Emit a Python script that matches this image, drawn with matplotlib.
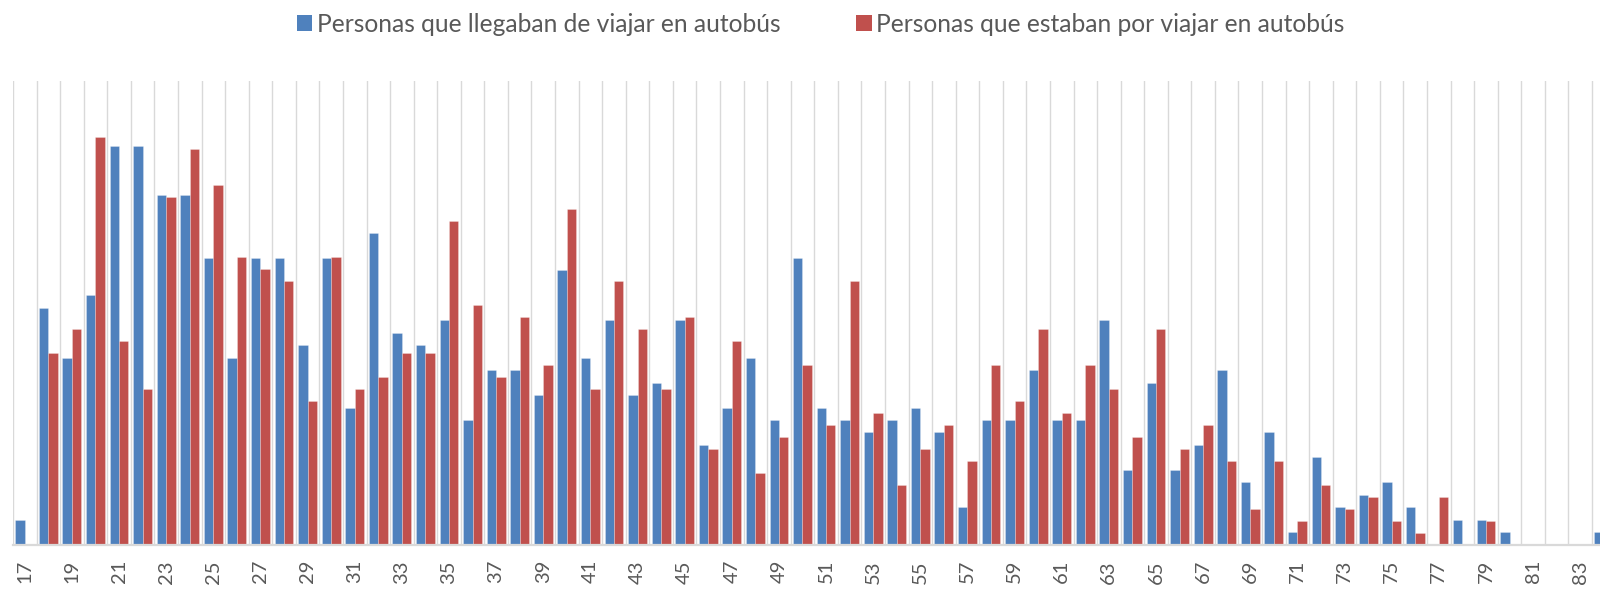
import matplotlib
matplotlib.use("Agg")
import matplotlib.pyplot as plt
from matplotlib.patches import Patch
import numpy as np

# Age of each respondent group
ages = list(range(17, 85))

# People counted per age: arriving from a bus trip
llegaban = [2, 19, 15, 20, 32, 32, 28, 28, 23, 15,
            23, 23, 16, 23, 11, 25, 17, 16, 18, 10,
            14, 14, 12, 22, 15, 18, 12, 13, 18, 8,
            11, 15, 10, 23, 11, 10, 9, 10, 11, 9,
            3, 10, 10, 14, 10, 10, 18, 6, 13, 6,
            8, 14, 5, 9, 1, 7, 3, 4, 5, 3,
            0, 2, 2, 1, 0, 0, 0, 1]

# People counted per age: about to leave on a bus trip
por_viajar = [0, 16, 18, 34, 17, 13, 29, 33, 30, 24,
              23, 22, 12, 24, 13, 14, 16, 16, 27, 20,
              14, 19, 15, 28, 13, 22, 18, 13, 19, 8,
              17, 6, 9, 15, 10, 22, 11, 5, 8, 10,
              7, 15, 12, 18, 11, 15, 13, 9, 18, 8,
              10, 7, 3, 7, 2, 5, 3, 4, 2, 1,
              4, 0, 2, 0, 0, 0, 0, 0]

series_names = ["Personas que llegaban de viajar en autobús",
                "Personas que estaban por viajar en autobús"]
tick_ages = list(range(17, 84, 2))

BLUE = "#4f81bd"
RED = "#c0504d"
GRID = "#d9d9d9"
TEXT = "#595959"

plt.rcParams["font.family"] = ["Lato", "DejaVu Sans"]

# Each series as a share (%) of its own total
x = np.array(ages, dtype=float)
pct_lleg = np.array(llegaban) / sum(llegaban) * 100
pct_por = np.array(por_viajar) / sum(por_viajar) * 100

W, H = 1600, 589
fig = plt.figure(figsize=(W / 100, H / 100), dpi=100)
left_px, right_px, top_px, bottom_px = 13.0, 1600.0, 81.0, 544.8
ax = fig.add_axes([left_px / W, 1 - bottom_px / H,
                   (right_px - left_px) / W, (bottom_px - top_px) / H])

bar_w = 0.4
ax.bar(x - bar_w / 2, pct_lleg, width=bar_w, color=BLUE,
       edgecolor=(1, 1, 1, 0.35), linewidth=0.5, zorder=2)
ax.bar(x + bar_w / 2, pct_por, width=bar_w, color=RED,
       edgecolor=(1, 1, 1, 0.35), linewidth=0.5, zorder=2)

ax.set_xticks(np.arange(16.5, 86, 1), minor=True)
ax.set_xticks(tick_ages)
ax.set_xticklabels([str(a) for a in tick_ages], rotation=90,
                   fontsize=14.5, color=TEXT)
ax.set_yticks([])
ax.tick_params(which="both", length=0)
ax.tick_params(axis="x", which="major", pad=11)
ax.grid(which="minor", axis="x", color=GRID, linewidth=1.0, zorder=0)
ax.set_axisbelow(True)

# Category width in pixels sets the visible right limit
cat_px = 23.567
ax.set_xlim(16.5, 16.5 + (right_px - left_px) / cat_px)
ax.set_ylim(0, 4.5)

for side in ("top", "right", "left"):
    ax.spines[side].set_visible(False)
ax.spines["bottom"].set_color(GRID)
ax.spines["bottom"].set_linewidth(1.6)
ax.spines["bottom"].set_zorder(3)

handles = [Patch(facecolor=BLUE, edgecolor="none"),
           Patch(facecolor=RED, edgecolor="none")]
fig.legend(handles, series_names, loc="center", ncol=2,
           bbox_to_anchor=(821 / W, 1 - 24 / H), frameon=False,
           fontsize=17.75, labelcolor=TEXT, handlelength=0.62,
           handleheight=0.62, handletextpad=0.2, columnspacing=3.05,
           borderpad=0, borderaxespad=0)

fig.savefig("out.png", dpi=100)
